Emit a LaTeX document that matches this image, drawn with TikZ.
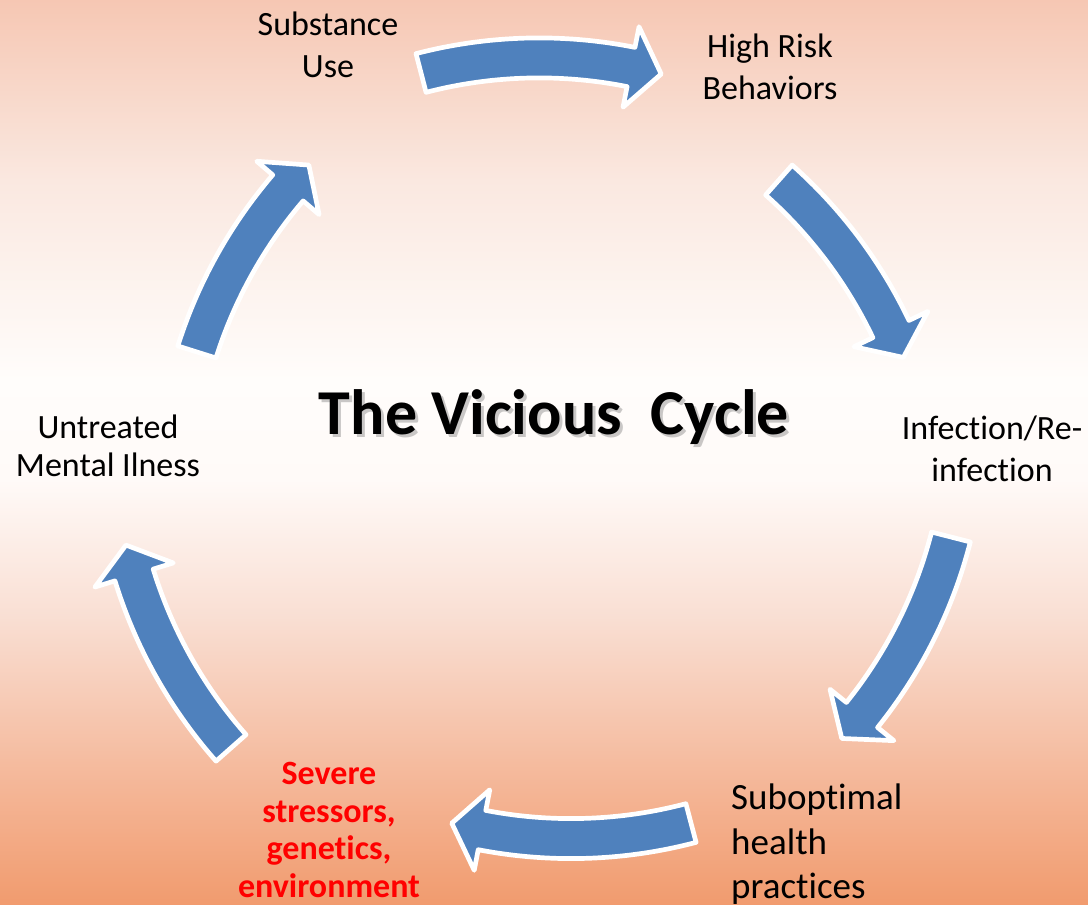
\documentclass[tikz,border=0pt]{standalone}
\usepackage{fontspec}
\setmainfont{Carlito}[Ligatures={NoCommon,NoContextual}, RawFeature={-liga;-clig;-dlig}]

% background stops, top to bottom
\definecolor{bgA}{RGB}{246,199,179}
\definecolor{bgB}{RGB}{250,232,224}
\definecolor{bgC}{RGB}{255,253,251}
\definecolor{bgD}{RGB}{255,250,248}
\definecolor{bgE}{RGB}{249,222,210}
\definecolor{bgF}{RGB}{245,188,160}
\definecolor{bgG}{RGB}{241,155,110}
\definecolor{arrowblue}{RGB}{79,129,189}
\definecolor{alertred}{RGB}{255,0,0}

% geometry of the curved block arrows
\def\arwband{20}  % half width of the band
\def\arwhead{41}  % half width of the head
\def\arwlen{31}   % length of the head along the arc

% #1 centre of the arc, #2 radius, #3 tail angle, #4 angle where the head starts
\newcommand\cyclearrow[4]{%
  \begin{scope}[shift={#1}]
    \filldraw[arrowshape]
      plot[domain=#3:#4, samples=40] (\x:{#2+\arwband})
      -- (#4:{#2+\arwhead})
      -- ({#4+\arwlen/#2*57.29578}:#2)
      -- (#4:{#2-\arwhead})
      -- plot[domain=#4:#3, samples=40] (\x:{#2-\arwband})
      -- cycle;
  \end{scope}}

\begin{document}
\begin{tikzpicture}[x=1pt,y=-1pt,
  arrowshape/.style={fill=arrowblue, draw=white, line width=4.7pt, line join=round},
  lbl/.style={align=center, inner sep=0pt, font=\fontsize{34}{41.5}\selectfont},
  lbltight/.style={align=center, inner sep=0pt, font=\fontsize{34}{37.5}\selectfont},
  titlestyle/.style={inner sep=0pt, font=\fontsize{64}{76}\selectfont\bfseries}]
\useasboundingbox (0,0) rectangle (1088,905);

% vertical colour gradient of the backdrop
\foreach \ya/\yb/\ca/\cb in {0/180/bgA/bgB, 180/380/bgB/bgC, 380/480/bgC/bgD,
    480/620/bgD/bgE, 620/760/bgE/bgF, 760/905/bgF/bgG}
  \fill[top color=\ca, bottom color=\cb] (-1,\ya-0.6) rectangle (1089,\yb+0.6);

% the six arrows of the cycle
\cyclearrow{(539.1,527.9)}{470}{-104.55}{-78.72}
\cyclearrow{(466.7,531.3)}{470}{-48.37}{-25.49}
\cyclearrow{(495.6,420.6)}{470}{14.34}{38.78}
\cyclearrow{(571.1,368.6)}{470}{75.22}{100.93}
\cyclearrow{(583.3,436.8)}{470}{138.55}{162.90}
\cyclearrow{(645.1,493.4)}{470}{-162.49}{-139.46}

% stages
\node[lbl] (substance) at (328,45) {Substance\\Use};
\node[lbl] (risk) at (770,67) {High Risk\\Behaviors};
\node[lbl] (infection) at (992,449) {Infection/Re-\\infection};
\node[lbl, align=left, font=\fontsize{37}{44.5}\selectfont, anchor=north west] (practices) at (731,784) {Suboptimal\\health\\practices};
\node[lbltight, text=alertred, font=\fontsize{34}{37.5}\selectfont\bfseries] (stressors) at (329,830) {Severe\\stressors,\\genetics,\\environment};
\node[lbltight] (mental) at (108,446) {Untreated\\Mental Ilness};

% title with its soft drop shadow
\node[titlestyle, text=black!60, opacity=0.35] (titleshadow) at (557,420) {The Vicious~~Cycle};
\node[titlestyle] (title) at (554,417) {The Vicious~~Cycle};
\end{tikzpicture}
\end{document}
